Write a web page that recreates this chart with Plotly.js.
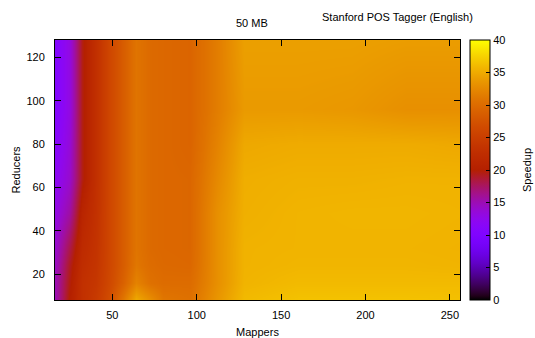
<!DOCTYPE html>
<html>
<head>
<meta charset="utf-8">
<script src="https://cdn.plot.ly/plotly-3.0.1.min.js"></script>
<style>html,body{margin:0;padding:0;background:#fff;}#chart{width:535px;height:338px;}</style>
</head>
<body>
<div id="chart"></div>
<script>
// Mappers (x) and Reducers (y) grid
const mappers = [16, 24, 32, 40, 48, 56, 64, 72, 80, 96, 112, 128, 160, 192, 224, 256];
const reducers = [8, 16, 24, 32, 48, 64, 80, 96, 112, 128];
// speedup per mapper column, listed for reducers 8..128
const col16  = [15, 15, 14.5, 14, 13, 12, 11, 10.5, 10.5, 10.5];
const col24  = [20, 19.5, 19, 18, 15.5, 14, 13.5, 13, 13, 13];
const col32  = [23, 23, 22.5, 22, 21, 19.5, 19.5, 19.5, 19.5, 19.5];
const col40  = [24.5, 24, 23.7, 23.5, 23.2, 23, 23, 23, 23, 23];
const col48  = [26.8, 26.2, 26, 26, 26, 26, 26, 26, 26, 26];
const col56  = [31, 29, 28.5, 28.5, 28.5, 28.5, 28.5, 28.5, 28.5, 28.5];
const col64  = [35, 32, 31, 30.8, 30.8, 30.8, 30.8, 30.8, 30.8, 30.8];
const col72  = [33, 30.5, 30, 29.8, 29.8, 29.8, 29.8, 29.8, 29.8, 29.8];
const col80  = [31, 30, 29.7, 29.6, 29.6, 29.6, 29.6, 29.6, 29.6, 29.6];
const col96  = [30.5, 30, 29.6, 29.5, 29.5, 29.5, 29.3, 29.3, 29.3, 29.3];
const col112 = [33.5, 33, 33, 33, 33, 32.5, 32, 31.5, 31.5, 31.5];
const col128 = [36, 35.6, 35.5, 35.5, 35.3, 35.2, 34.8, 33.8, 34, 34.2];
const col160 = [36.5, 36, 35.7, 35.6, 35.6, 35.4, 35, 33.8, 34, 34.2];
const col192 = [36.5, 36, 35.7, 35.6, 35.7, 35.4, 35, 33.6, 33.9, 34.2];
const col224 = [36.5, 36, 35.7, 35.6, 35.7, 35.5, 35, 33, 33.5, 34];
const col256 = [36.4, 36, 35.6, 35.5, 35.6, 35.5, 34.8, 33, 33.5, 34];
const columns = [col16, col24, col32, col40, col48, col56, col64, col72, col80, col96, col112, col128, col160, col192, col224, col256];
const cbTicks = [0, 5, 10, 15, 20, 25, 30, 35, 40];

// z[row = reducer][col = mapper]
const z = reducers.map((r, i) => columns.map(c => c[i]));

// gnuplot default palette (rgbformulae 7,5,15)
const colorscale = [];
const N = 64;
for (let k = 0; k <= N; k++) {
  const t = k / N;
  const r = Math.sqrt(t);
  const g = Math.pow(t, 3);
  const b = Math.max(0, Math.min(1, Math.sin(2 * Math.PI * t)));
  colorscale.push([t, `rgb(${Math.round(r*255)},${Math.round(g*255)},${Math.round(b*255)})`]);
}

const font = {family: 'Liberation Sans, Arial, sans-serif', size: 11, color: '#000'};
const trace = {
  type: 'heatmap',
  x: mappers, y: reducers, z: z,
  zsmooth: 'best',
  zmin: 0, zmax: 40,
  colorscale: colorscale,
  showscale: true,
  colorbar: {
    x: (470 - 55) / 405, xanchor: 'left', xref: 'paper',
    y: 0.5, yanchor: 'middle', len: 1, lenmode: 'fraction',
    thickness: 20, thicknessmode: 'pixels', xpad: 0, ypad: 0,
    outlinecolor: '#000', outlinewidth: 1,
    tickvals: cbTicks, ticktext: cbTicks.map(String),
    ticks: 'inside', ticklen: 4, tickcolor: '#000',
    tickfont: font
  }
};
const layout = {
  width: 535, height: 338,
  margin: {l: 55, r: 75, t: 40, b: 38, autoexpand: false},
  paper_bgcolor: '#fff', plot_bgcolor: '#fff',
  font: font,
  showlegend: false,
  xaxis: {
    range: [16, 256], tickvals: [50, 100, 150, 200, 250],
    ticks: 'inside', ticklen: 6, tickcolor: '#000',
    showline: true, linecolor: '#000', linewidth: 1, mirror: 'ticks',
    showgrid: false, zeroline: false, tickfont: font,
    ticklabelstandoff: 5,
    title: {text: 'Mappers', font: font, standoff: 8}
  },
  yaxis: {
    range: [8, 128], tickvals: [20, 40, 60, 80, 100, 120],
    ticks: 'inside', ticklen: 6, tickcolor: '#000',
    showline: true, linecolor: '#000', linewidth: 1, mirror: 'ticks',
    showgrid: false, zeroline: false, tickfont: font,
    ticklabelstandoff: 7,
    title: {text: 'Reducers', font: font, standoff: 3}
  },
  annotations: [
    {text: '50 MB', xref: 'paper', yref: 'paper', x: (251.5 - 55) / 405, y: (300 - 23) / 260,
     xanchor: 'center', yanchor: 'middle', showarrow: false, font: font},
    {text: 'Stanford POS Tagger (English)', xref: 'paper', yref: 'paper', x: (397 - 55) / 405, y: (300 - 17) / 260,
     xanchor: 'center', yanchor: 'middle', showarrow: false, font: font},
    {text: 'Speedup', xref: 'paper', yref: 'paper', x: (527 - 55) / 405, y: (300 - 170) / 260,
     xanchor: 'center', yanchor: 'middle', textangle: -90, showarrow: false, font: font}
  ]
};
Plotly.newPlot('chart', [trace], layout, {displayModeBar: false, staticPlot: true});
</script>
</body>
</html>
